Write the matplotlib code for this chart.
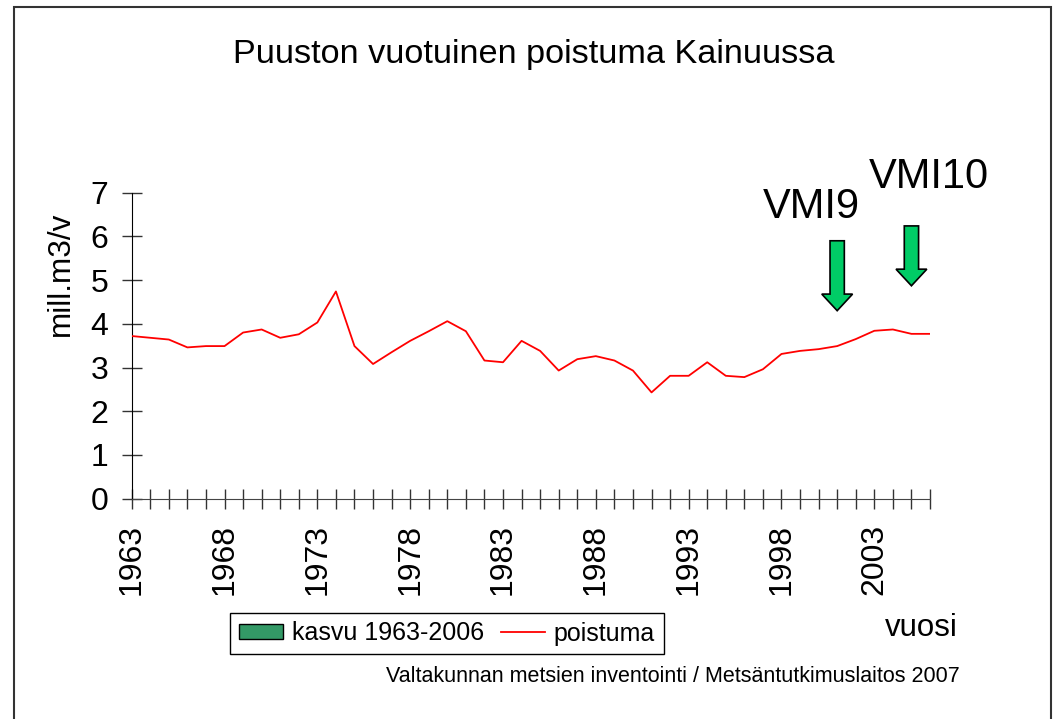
import matplotlib
matplotlib.use("Agg")
import matplotlib.pyplot as plt
from matplotlib.patches import Patch, FancyArrow, Rectangle
from matplotlib.lines import Line2D

plt.rcParams['font.family'] = ['Liberation Sans', 'DejaVu Sans']

# data (mill. m3 / year)
years = list(range(1963, 2007))
poistuma = [3.72, 3.68, 3.64, 3.46, 3.49, 3.49, 3.80, 3.87, 3.68, 3.76,
            4.03, 4.74, 3.49, 3.08, 3.35, 3.61, 3.83, 4.06, 3.83, 3.16,
            3.12, 3.61, 3.38, 2.93, 3.19, 3.26, 3.16, 2.93, 2.43, 2.81,
            2.81, 3.12, 2.81, 2.78, 2.96, 3.31, 3.38, 3.42, 3.49, 3.65,
            3.84, 3.87, 3.77, 3.77]
label_years = [1963, 1968, 1973, 1978, 1983, 1988, 1993, 1998, 2003]
yticks = [0, 1, 2, 3, 4, 5, 6, 7]

# inventory markers: (label, year, arrow top, arrow tip)
vmi_names = ["VMI9", "VMI10"]
vmi_years = [2001, 2005]
vmi_top = [5.90, 6.24]
vmi_tip = [4.30, 4.87]

W, H = 1055, 719
fig = plt.figure(figsize=(W / 100, H / 100), dpi=100)

def fx(px):
    return px / W

def fy(py):
    return 1 - py / H

# outer frame of the picture
fig.add_artist(Rectangle((fx(13.5), fy(725)), fx(1051) - fx(13.5), fy(7) - fy(725),
                         transform=fig.transFigure, fill=False, edgecolor='#333333', lw=1.5))

ax = fig.add_axes([fx(131.7), fy(498.6), fx(930) - fx(131.7), fy(192.7) - fy(498.6)])
ax.plot(years, poistuma, color='red', lw=1.3, zorder=3)

ax.set_xlim(1963, 2006)
ax.set_ylim(0, 7)
for side in ['top', 'right']:
    ax.spines[side].set_visible(False)
ax.spines['left'].set_color('black')
ax.spines['bottom'].set_color('#444444')

ax.set_xticks(years)
ax.set_xticklabels([str(y) if y in label_years else '' for y in years],
                   rotation=90, fontsize=23)
ax.set_yticks(yticks)
ax.set_yticklabels([str(v) for v in yticks], fontsize=23)
ax.tick_params(axis='both', direction='inout', length=14, width=1, color='#333333')
ax.tick_params(axis='x', pad=11)
ax.tick_params(axis='y', pad=10)

# green arrows pointing at inventory years
for name, yr, top, tip in zip(vmi_names, vmi_years, vmi_top, vmi_tip):
    hl = 0.38
    ax.add_patch(FancyArrow(yr, top, 0, tip - top, width=0.77, head_width=1.66,
                            head_length=hl, length_includes_head=True,
                            facecolor='#00cc66', edgecolor='black', lw=1.2,
                            clip_on=False, zorder=4))

fig.text(fx(811), fy(207), "VMI9", fontsize=30, ha='center', va='center')
fig.text(fx(929), fy(177), "VMI10", fontsize=30, ha='center', va='center')

fig.text(fx(534), fy(55), "Puuston vuotuinen poistuma Kainuussa",
         fontsize=24.7, ha='center', va='center')
fig.text(fx(61), fy(274), "mill.m3/v", fontsize=22.7, rotation=90,
         ha='center', va='center')
fig.text(fx(921), fy(628), "vuosi", fontsize=22.5, ha='center', va='center')
fig.text(fx(673), fy(677),
         "Valtakunnan metsien inventointi / Metsäntutkimuslaitos 2007",
         fontsize=15.5, ha='center', va='center')

handles = [Patch(facecolor='#339966', edgecolor='black', lw=1),
           Line2D([], [], color='red', lw=1.3)]
leg = fig.legend(handles, ["kasvu 1963-2006", "poistuma"], ncol=2,
                 loc='center', bbox_to_anchor=(fx(447), fy(633.5)),
                 fontsize=18, fancybox=False, edgecolor='black', framealpha=1,
                 handlelength=1.75, handleheight=0.55, handletextpad=0.35,
                 columnspacing=0.7, borderpad=0.35)
leg.get_frame().set_linewidth(1)

fig.savefig("out.png", dpi=100)
